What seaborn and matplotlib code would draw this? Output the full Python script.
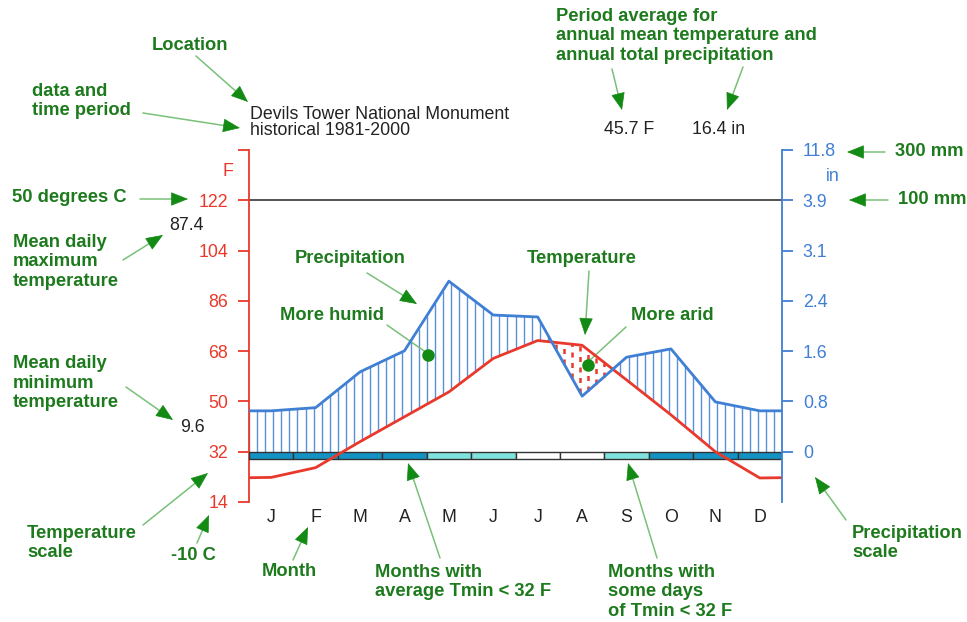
import numpy as np
import matplotlib.pyplot as plt
import seaborn as sns

sns.set_style("white")
plt.rcParams['font.family'] = ['Liberation Sans', 'DejaVu Sans']

# climate data
months = ['J', 'F', 'M', 'A', 'M', 'J', 'J', 'A', 'S', 'O', 'N', 'D']
mean_temp_f = [22.8, 26.3, 35.6, 44.5, 53.4, 65.4, 71.8, 70.1, 57.7, 45.2, 32.0, 22.6]
precip_in = [0.64, 0.69, 1.25, 1.58, 2.67, 2.14, 2.11, 0.87, 1.48, 1.61, 0.78, 0.64]
frost_class = ['sure', 'sure', 'sure', 'sure', 'likely', 'likely',
               'none', 'none', 'likely', 'sure', 'sure', 'sure']
temp_ticks_f = [14, 32, 50, 68, 86, 104, 122, 140]
precip_ticks_mm = [0, 20, 40, 60, 80, 100, 300]
station = 'Devils Tower National Monument'
period = 'historical 1981-2000'
annual_temp = '45.7 F'
annual_precip = '16.4 in'
max_temp = '87.4'
min_temp = '9.6'

RED = '#e8392c'
BLUE = '#3f7fd4'
HATCH_BLUE = '#5a8fdc'
GREEN_TXT = '#1d7a1d'
GREEN_HEAD = '#138a13'
GREEN_LINE = '#79c079'
frost_colors = {'sure': '#1592c4', 'likely': '#80e2dc', 'none': '#ffffff'}
FS = 12.8

W, H = 967, 622


def P(x, y):
    # pixel position (from top-left) -> figure fraction
    return (x / W, 1 - y / H)


def mm_to_f(mm):
    # Walter-Lieth scaling: 20 mm per 10 C below 100 mm, 1:10 above
    mm = np.asarray(mm, dtype=float)
    return np.where(mm <= 100, 32 + 0.9 * mm, 122 + 0.09 * (mm - 100))


temp = np.array(mean_temp_f)
prec = mm_to_f(np.array(precip_in) * 25.4)

# wrap the year so lines reach both axes
x_ext = np.r_[-0.5, np.arange(12), 11.5]
t_ext = np.r_[(temp[0] + temp[-1]) / 2, temp, (temp[0] + temp[-1]) / 2]
p_ext = np.r_[(prec[0] + prec[-1]) / 2, prec, (prec[0] + prec[-1]) / 2]

fig = plt.figure(figsize=(9.67, 6.22), dpi=100)
ax = fig.add_axes([249 / W, (H - 502) / H, 533 / W, 352 / H])
ax.set_xlim(-0.5, 11.5)
ax.set_ylim(14, 140)

# hatching between the curves
xs = np.linspace(-0.5, 11.5, 67)
ti = np.interp(xs, x_ext, t_ext)
pi = np.interp(xs, x_ext, p_ext)
low = np.maximum(ti, 32)
m = pi > low
ax.vlines(xs[m], low[m], pi[m], color=HATCH_BLUE, lw=1.0, zorder=2)
m = ti > pi
ax.vlines(xs[m], pi[m], ti[m], color=RED, lw=1.8, linestyles=(0, (2, 2.2)), zorder=2)

ax.axhline(122, color='#444444', lw=1.3, zorder=2)

# frost bar
ax.bar(np.arange(12), 2.5, bottom=29.5, width=1,
       color=[frost_colors[c] for c in frost_class],
       edgecolor='#333333', linewidth=1, zorder=3)

sns.lineplot(x=x_ext, y=t_ext, ax=ax, color=RED, lw=2, sort=False, zorder=4)
sns.lineplot(x=x_ext, y=p_ext, ax=ax, color=BLUE, lw=2, sort=False, zorder=5)

# axes styling
for s in ['top', 'bottom', 'right']:
    ax.spines[s].set_visible(False)
ax.spines['left'].set_color(RED)
ax.spines['left'].set_linewidth(1.3)
ax.set_yticks(temp_ticks_f)
ax.set_yticklabels([str(t) for t in temp_ticks_f[:-1]] + [''])
ax.tick_params(axis='y', colors=RED, length=8, width=1.3, pad=7, labelsize=FS)
ax.set_xticks(np.arange(12))
ax.set_xticklabels(months)
ax.tick_params(axis='x', length=0, pad=5, labelsize=FS, labelcolor='#222222')

ax2 = ax.twinx()
ax2.set_ylim(14, 140)
for s in ['top', 'bottom', 'left']:
    ax2.spines[s].set_visible(False)
ax2.spines['right'].set_color(BLUE)
ax2.spines['right'].set_linewidth(1.3)
ax2.set_yticks(mm_to_f(precip_ticks_mm))
ax2.set_yticklabels(['0' if v == 0 else f'{v / 25.4:.1f}' for v in precip_ticks_mm])
ax2.tick_params(axis='y', colors=BLUE, length=8, width=1.3, pad=7, labelsize=FS)

# header texts
fig.text(*P(228, 172), 'F', color=RED, fontsize=FS, ha='center', va='center')
fig.text(*P(833, 176), 'in', color=BLUE, fontsize=FS, ha='center', va='center')
fig.text(*P(250, 122.5), station + '\n' + period, fontsize=FS, color='#222222',
         va='center', linespacing=0.85)
fig.text(*P(629, 130), annual_temp, fontsize=FS, color='#222222', ha='center', va='center')
fig.text(*P(719, 130), annual_precip, fontsize=FS, color='#222222', ha='center', va='center')
fig.text(*P(186, 226), max_temp, fontsize=FS, color='#222222', ha='center', va='center')
fig.text(*P(192, 427), min_temp, fontsize=FS, color='#222222', ha='center', va='center')

# green explanatory notes
notes = [
    ('Location', 190, 45, 'center'),
    ('data and\ntime period', 32, 101, 'left'),
    ('Period average for\nannual mean temperature and\nannual total precipitation', 556, 36, 'left'),
    ('300 mm', 895, 152, 'left'),
    ('100 mm', 898, 200, 'left'),
    ('50 degrees C', 12, 197, 'left'),
    ('Mean daily\nmaximum\ntemperature', 13, 262, 'left'),
    ('Mean daily\nminimum\ntemperature', 13, 383, 'left'),
    ('Precipitation', 350, 258, 'center'),
    ('More humid', 332, 316, 'center'),
    ('Temperature', 582, 258, 'center'),
    ('More arid', 672, 316, 'center'),
    ('Temperature\nscale', 27, 543, 'left'),
    ('-10 C', 193, 555, 'center'),
    ('Month', 289, 571, 'center'),
    ('Months with\naverage Tmin < 32 F', 375, 582, 'left'),
    ('Months with\nsome days\nof Tmin < 32 F', 608, 592, 'left'),
    ('Precipitation\nscale', 852, 543, 'left'),
]
for txt, x, y, ha in notes:
    fig.text(*P(x, y), txt, color=GREEN_TXT, fontsize=13.2, fontweight='bold',
             ha=ha, va='center', linespacing=1.2)

arrows = [
    ((196, 56), (248, 102)),
    ((143, 113), (240, 128)),
    ((612, 69), (622, 110)),
    ((743, 67), (727, 110)),
    ((885, 152), (847, 152)),
    ((888, 200), (849, 200)),
    ((140, 199), (188, 199)),
    ((123, 260), (163, 235)),
    ((126, 387), (173, 420)),
    ((367, 273), (417, 304)),
    ((589, 271), (585, 335)),
    ((143, 525), (208, 473)),
    ((197, 543), (209, 515)),
    ((293, 560), (308, 527)),
    ((440, 558), (408, 463)),
    ((657, 558), (628, 463)),
    ((846, 520), (815, 477)),
]
for start, tip in arrows:
    # thin light shaft, then a solid dark head on top
    ax.annotate('', xy=P(*tip), xycoords='figure fraction',
                xytext=P(*start), textcoords='figure fraction',
                annotation_clip=False,
                arrowprops=dict(arrowstyle='-', color=GREEN_LINE, lw=1.1,
                                shrinkA=0, shrinkB=6))
    d = np.subtract(tip, start)
    base = np.asarray(tip) - d / np.hypot(*d) * 14
    ax.annotate('', xy=P(*tip), xycoords='figure fraction',
                xytext=P(*base), textcoords='figure fraction',
                annotation_clip=False,
                arrowprops=dict(arrowstyle='-|>,head_length=0.8,head_width=0.32',
                                color=GREEN_HEAD, lw=0.5,
                                mutation_scale=14, shrinkA=0, shrinkB=0))

pointers = [((387, 325), (427, 353)), ((626, 327), (590, 360))]
for start, tip in pointers:
    ax.annotate('', xy=P(*tip), xycoords='figure fraction',
                xytext=P(*start), textcoords='figure fraction',
                annotation_clip=False,
                arrowprops=dict(arrowstyle='-', color=GREEN_LINE, lw=1.1,
                                shrinkA=0, shrinkB=0))
dots = [(428, 355), (588, 365)]
for x, y in dots:
    fig.add_artist(plt.Line2D([x / W], [1 - y / H], marker='o', markersize=8,
                              color=GREEN_HEAD, transform=fig.transFigure, zorder=10))

fig.savefig('out.png', dpi=100)
